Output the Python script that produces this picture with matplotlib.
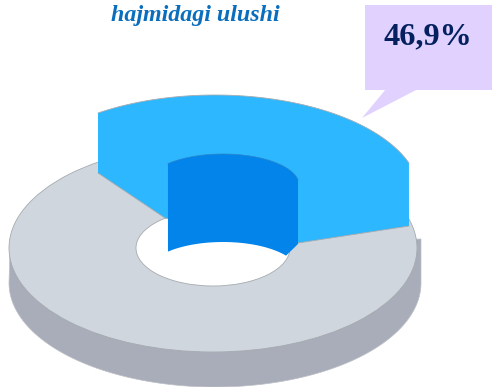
import numpy as np
import matplotlib
matplotlib.use("Agg")
import matplotlib.pyplot as plt
from matplotlib.patches import Polygon, Rectangle, Ellipse

# data
shares = [46.9, 53.1]
title_text = "hajmidagi ulushi"

LIGHT = "#2DB7FF"
DARK = "#0284EA"
TOP = "#CFD6DD"
WALL = "#A8ADB9"
EDGE = "#A6ABB0"
CALLOUT = "#E0D1FF"


def arc(cx, cy, a, b, t0, t1, n=120):
    t = np.radians(np.linspace(t0, t1, n))
    return np.column_stack([cx + a * np.cos(t), cy - b * np.sin(t)])


fig = plt.figure(figsize=(4.92, 3.87), dpi=100)
ax = fig.add_axes([0, 0, 1, 1])
ax.set_xlim(0, 492)
ax.set_ylim(387, 0)
ax.axis("off")

# base wall of the disc
wall = np.vstack([
    [[421, 239]],
    arc(215, 283, 206, 104, 0, -180),
    [[10, 250], [421, 239]],
])
ax.add_patch(Polygon(wall, closed=True, fc=WALL, ec="#BCC0C7", lw=0.5, zorder=1))

# top face of the disc and its hole
ax.add_patch(Ellipse((213, 248), 408, 208, fc=TOP, ec=EDGE, lw=0.6, zorder=2))
ax.add_patch(Ellipse((213, 248), 154, 76, fc="white", ec=EDGE, lw=0.6, zorder=3))

# raised slice: outer face and top
top_arc = arc(215, 195.6, 205, 100.6, 124.8, 18.9)
base = np.array([[409, 226], [298, 243], [165, 218], [98, 173]])
ax.add_patch(Polygon(np.vstack([top_arc, base]), closed=True, fc=LIGHT, ec="none", zorder=4))
ax.plot(top_arc[:, 0], top_arc[:, 1], color=EDGE, lw=0.6, zorder=4.5)
ax.plot(base[:, 0], base[:, 1], color=EDGE, lw=0.6, zorder=4.5)

# raised slice: inner wall
inner_top = arc(223, 185, 76, 31, 136.4, 9.3)
dark = np.vstack([
    inner_top,
    [[298, 244]],
    arc(223, 273, 76, 31, 34, 136.4),
])
ax.add_patch(Polygon(dark, closed=True, fc=DARK, ec="none", zorder=5))
ax.plot(inner_top[:, 0], inner_top[:, 1], color="#2A86C8", lw=0.5, zorder=5.5)

# callout
ax.add_patch(Rectangle((365, 5), 127, 85, fc=CALLOUT, ec="none", zorder=6))
ax.add_patch(Polygon([[386, 89], [362, 118], [418, 89]], closed=True,
                     fc=CALLOUT, ec="none", zorder=6))
ax.text(428, 44, f"{shares[0]:.1f}%".replace(".", ","), ha="center", va="baseline",
        family="Liberation Serif", weight="bold", fontsize=23.2, color="#04205F", zorder=7)

ax.text(195.5, 21.5, title_text, ha="center", va="baseline", family="Liberation Serif",
        weight="bold", style="italic", fontsize=17.3, color="#0A6EBD", zorder=7)

fig.savefig("out.png", dpi=100)
